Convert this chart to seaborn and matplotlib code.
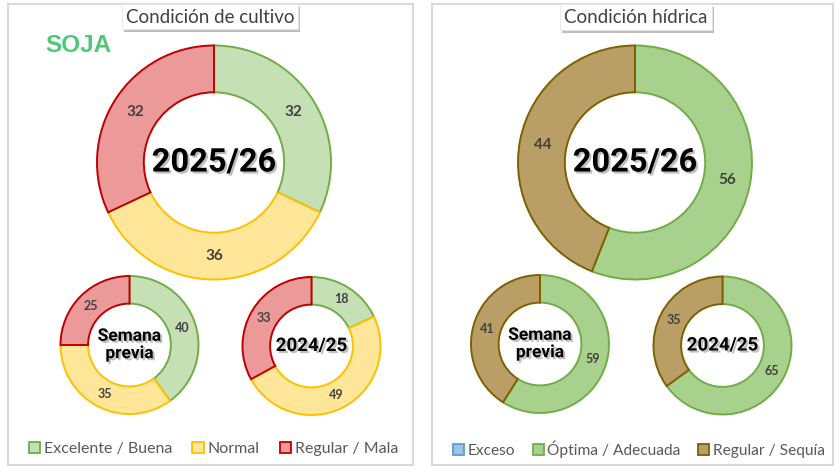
import matplotlib
matplotlib.use("Agg")
import matplotlib.pyplot as plt
import matplotlib.patheffects as pe
from matplotlib.patches import Rectangle, Patch
import numpy as np
import seaborn as sns

# ---------------- data ----------------
crop_cats = ["Excelente / Buena", "Normal", "Regular / Mala"]
crop_now = [32, 36, 32]
crop_prev = [40, 35, 25]
crop_last = [18, 49, 33]

water_cats = ["Exceso", "Óptima / Adecuada", "Regular / Sequía"]
water_now = [0, 56, 44]
water_prev = [0, 59, 41]
water_last = [0, 65, 35]

crop_title = "Condición de cultivo"
water_title = "Condición hídrica"
crop_label = "SOJA"
center_labels = ["2025/26", "Semana\nprevia", "2024/25"]

crop_fill = ["#C5E0B4", "#FFE699", "#EB9999"]
crop_edge = ["#70AD47", "#FFC000", "#C00000"]
water_fill = ["#9DC3E6", "#A9D18E", "#B99F66"]
water_edge = ["#5B9BD5", "#70AD47", "#7F6000"]

# ---------------- style ----------------
sns.set_theme(style="white")
plt.rcParams["font.family"] = ["Lato", "DejaVu Sans"]

W, H = 840, 474
fig = plt.figure(figsize=(W / 100, H / 100), dpi=100)
ax = fig.add_axes([0, 0, 1, 1])


def Y(y):
    return H - y


def donut(values, fills, edges, cx, cy, r, fs, center_text, cfs):
    vals = [v for v in values if v > 0]
    fc = [f for v, f in zip(values, fills) if v > 0]
    ec = [e for v, e in zip(values, edges) if v > 0]
    wedges, _ = ax.pie(vals, colors=fc, startangle=90, counterclock=False,
                       radius=r, center=(cx, Y(cy)), frame=True,
                       wedgeprops=dict(width=r * 0.4, linewidth=1.4))
    for w, e in zip(wedges, ec):
        w.set_edgecolor(e)
    total = float(sum(vals))
    cum = 0.0
    rm = r * 0.8
    for v in vals:
        mid = 90 - 360 * (cum + v / 2) / total
        cum += v
        a = np.deg2rad(mid)
        ax.text(cx + rm * np.cos(a), Y(cy) + rm * np.sin(a), f"{v}",
                ha="center", va="center", fontsize=fs, fontweight="bold",
                color="#404040", family=["Lato", "DejaVu Sans"])
    t = ax.text(cx, Y(cy), center_text, ha="center", va="center",
                fontsize=cfs, fontweight="bold", color="black",
                family=["Roboto", "DejaVu Sans"], linespacing=1.2)
    t.set_path_effects([pe.SimplePatchShadow(offset=(1.5, -1.5),
                                             shadow_rgbFace="#808080",
                                             alpha=0.5),
                        pe.Normal()])


# panel frames
for x0, x1 in [(8, 413), (432, 833)]:
    ax.add_patch(Rectangle((x0, Y(465)), x1 - x0, 461, fill=False,
                           edgecolor="#D9D9D9", linewidth=1.5, zorder=0))

# donuts - crop condition
donut(crop_now, crop_fill, crop_edge, 214, 162.5, 117, 11, center_labels[0], 23.5)
donut(crop_prev, crop_fill, crop_edge, 129.5, 345, 69, 9, center_labels[1], 12.5)
donut(crop_last, crop_fill, crop_edge, 311.5, 346, 69, 9, center_labels[2], 13.5)

# donuts - water condition
donut(water_now, water_fill, water_edge, 635, 162.5, 117, 11, center_labels[0], 23.5)
donut(water_prev, water_fill, water_edge, 540, 344, 69, 9, center_labels[1], 12.5)
donut(water_last, water_fill, water_edge, 722.5, 345.5, 69, 9, center_labels[2], 13.5)

# title boxes with shadows
for (x0, x1, y0, y1, title) in [(122, 298, 4, 29, crop_title),
                                (560, 712, 4, 30, water_title)]:
    box = Rectangle((x0, Y(y1)), x1 - x0, y1 - y0, facecolor="white",
                    edgecolor="#E6E6E6", linewidth=0.6, zorder=5)
    box.set_path_effects([pe.SimplePatchShadow(offset=(1.5, -2.5),
                                               shadow_rgbFace="#707070",
                                               alpha=0.45),
                          pe.Normal()])
    ax.add_patch(box)
    ax.text((x0 + x1) / 2, Y((y0 + y1) / 2 + 0.5), title, ha="center",
            va="center", fontsize=13.5, color="#404040", zorder=6)

# crop label
ax.text(45, Y(45), crop_label, ha="left", va="center", fontsize=17.5,
        fontweight="bold", color="#50C878",
        family=["Liberation Sans", "DejaVu Sans"])

# legends
def make_legend(cats, fills, edges, xc, fs, cs):
    handles = [Patch(facecolor=f, edgecolor=e, linewidth=1.3)
               for f, e in zip(fills, edges)]
    leg = ax.legend(handles, cats, loc="center", ncol=3,
                    bbox_to_anchor=(xc / W, 1 - 449 / H),
                    frameon=False, fontsize=fs, handlelength=0.7,
                    handleheight=0.7, handletextpad=0.25,
                    columnspacing=cs, borderpad=0, labelcolor="#595959")
    return leg

leg1 = make_legend(crop_cats, crop_fill, crop_edge, 213.5, 11.5, 1.25)
ax.add_artist(leg1)
make_legend(water_cats, water_fill, water_edge, 639, 11.2, 1.1)

ax.set_xlim(0, W)
ax.set_ylim(0, H)
ax.set_aspect("auto")
ax.axis("off")

fig.savefig("out.png", dpi=100)
